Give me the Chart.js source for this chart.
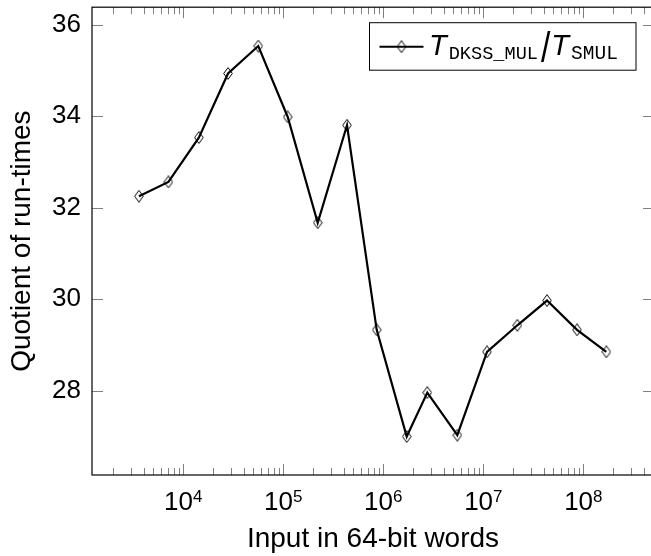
<!DOCTYPE html>
<html><head><meta charset="utf-8">
<script src="https://cdn.jsdelivr.net/npm/chart.js@4"></script>
<style>html,body{margin:0;padding:0;overflow:hidden;background:#fff;width:651px;height:556px}canvas{display:block}</style>
</head><body>
<canvas id="c" width="680" height="556" style="width:680px;height:556px"></canvas>
<script>
// ---- data ----
const inputWords = [3600, 7100, 14300, 28000, 56200, 110700, 220800, 433500, 859000, 1714000, 2754000, 5495000, 10890000, 21880000, 43350000, 86500000, 169800000];
const quotient   = [32.25, 32.56, 33.53, 34.93, 35.53, 33.98, 31.67, 33.80, 29.33, 27.00, 27.96, 27.03, 28.85, 29.43, 29.97, 29.33, 28.85];
const xTickExponents = [4, 5, 6, 7, 8];
const yTickValues = [28, 30, 32, 34, 36];
const xTitle = 'Input in 64-bit words';
const yTitle = 'Quotient of run-times';
const legendMain = 'T';
const legendSub1 = 'DKSS_MUL';
const legendSub2 = 'SMUL';
const xMin = 1222, xMax = 5.09e8, yMin = 26.16, yMax = 36.378;

const SANS = '"Liberation Sans", Arial, sans-serif';
const MONO = '"Liberation Mono", "Courier New", monospace';

function makeDiamond() {
  const c = document.createElement('canvas');
  c.width = 10; c.height = 13;
  const g = c.getContext('2d');
  g.strokeStyle = '#000'; g.lineWidth = 1;
  g.beginPath();
  g.moveTo(5, 0.6); g.lineTo(9.3, 6.5); g.lineTo(5, 12.4); g.lineTo(0.7, 6.5); g.closePath();
  g.stroke();
  return c;
}
const diamond = makeDiamond();

const framePlugin = {
  id: 'frame',
  beforeDatasetsDraw(chart) {
    const {ctx, chartArea: ca} = chart;
    const xs = chart.scales.x, ys = chart.scales.y;
    ctx.save();
    ctx.strokeStyle = '#808080'; ctx.lineWidth = 1;
    ctx.beginPath();
    const e0 = Math.floor(Math.log10(xs.min)), e1 = Math.ceil(Math.log10(xs.max));
    for (let e = e0; e <= e1; e++) {
      for (let m = 1; m <= 9; m++) {
        const v = m * Math.pow(10, e);
        if (v < xs.min || v > xs.max) continue;
        const px = Math.round(xs.getPixelForValue(v)) + 0.5;
        const len = m === 1 ? 11 : 7;
        ctx.moveTo(px, ca.bottom); ctx.lineTo(px, ca.bottom - len);
        ctx.moveTo(px, ca.top); ctx.lineTo(px, ca.top + len);
      }
    }
    yTickValues.forEach(v => {
      const py = Math.round(ys.getPixelForValue(v)) + 0.5;
      ctx.moveTo(ca.left, py); ctx.lineTo(ca.left + 11, py);
      ctx.moveTo(ca.right - 11, py); ctx.lineTo(ca.right, py);
    });
    ctx.stroke();
    ctx.restore();
  },
  afterDraw(chart) {
    const {ctx, chartArea: ca} = chart;
    const xs = chart.scales.x;
    ctx.save();
    // frame
    ctx.strokeStyle = '#000'; ctx.lineWidth = 1.2;
    ctx.strokeRect(ca.left, ca.top, ca.right - ca.left, ca.bottom - ca.top);
    // x tick labels 10^e
    ctx.fillStyle = '#000';
    ctx.textBaseline = 'alphabetic'; ctx.textAlign = 'left';
    xTickExponents.forEach(e => {
      const px = xs.getPixelForValue(Math.pow(10, e));
      ctx.font = '26px ' + SANS;
      const w1 = ctx.measureText('10').width;
      ctx.font = '17px ' + SANS;
      const w2 = ctx.measureText(String(e)).width;
      const x0 = px - (w1 + w2) / 2;
      ctx.font = '26px ' + SANS;
      ctx.fillText('10', x0, 510);
      ctx.font = '17px ' + SANS;
      ctx.fillText(String(e), x0 + w1, 502);
    });
    // legend
    const bx = ca.right - 284.5, by = ca.top + 15.5, bw = 266.5, bh = 47.5;
    ctx.fillStyle = '#fff';
    ctx.fillRect(bx, by, bw, bh);
    ctx.strokeStyle = '#000'; ctx.lineWidth = 1;
    ctx.strokeRect(bx, by, bw, bh);
    const ly = by + 24;
    ctx.lineWidth = 2;
    ctx.beginPath(); ctx.moveTo(bx + 10, ly); ctx.lineTo(bx + 54, ly); ctx.stroke();
    ctx.drawImage(diamond, bx + 32 - 5, ly - 6.5);
    ctx.fillStyle = '#000';
    let x = bx + 59.5;
    const base = by + 32.3;
    ctx.font = 'italic 29px ' + SANS;
    ctx.fillText(legendMain, x, base);
    x += ctx.measureText(legendMain).width + 2;
    ctx.font = '18.6px ' + MONO;
    ctx.fillText(legendSub1, x, base + 3.8);
    x += ctx.measureText(legendSub1).width + 3;
    // tall thin slash
    ctx.font = '32px ' + SANS;
    const sw = ctx.measureText('/').width;
    ctx.save();
    ctx.translate(x, base + 7);
    ctx.scale(1.05, 1.3);
    ctx.fillText('/', 0, 0);
    ctx.restore();
    x += sw * 1.05 + 1;
    ctx.font = 'italic 29px ' + SANS;
    ctx.fillText(legendMain, x, base);
    x += ctx.measureText(legendMain).width + 2;
    ctx.font = '19.5px ' + MONO;
    ctx.fillText(legendSub2, x, base + 3.8);
    ctx.restore();
  }
};

Chart.defaults.font.family = SANS;
Chart.defaults.color = '#000';

new Chart(document.getElementById('c'), {
  type: 'scatter',
  data: {
    datasets: [{
      label: 'T_DKSS_MUL / T_SMUL',
      data: inputWords.map((w, i) => ({x: w, y: quotient[i]})),
      showLine: true,
      borderColor: '#000',
      backgroundColor: '#000',
      borderWidth: 2.2,
      tension: 0,
      pointStyle: diamond,
      pointRadius: 5,
      pointHoverRadius: 5
    }]
  },
  options: {
    responsive: false,
    devicePixelRatio: 1,
    animation: false,
    events: [],
    layout: {padding: {top: 7, right: 26, bottom: 0, left: 0}},
    plugins: {legend: {display: false}, tooltip: {enabled: false}},
    scales: {
      x: {
        type: 'logarithmic', min: xMin, max: xMax,
        afterBuildTicks: s => { s.ticks = xTickExponents.map(e => ({value: Math.pow(10, e), major: true})); },
        afterFit: s => { s.height = 81; s.paddingLeft = 0; s.paddingRight = 0; },
        ticks: {display: false},
        grid: {display: false, drawTicks: false},
        border: {display: false},
        title: {display: true, text: xTitle, color: '#000', font: {size: 28, family: SANS}, padding: {top: 0, bottom: 0}}
      },
      y: {
        type: 'linear', min: yMin, max: yMax,
        afterBuildTicks: s => { s.ticks = yTickValues.map(v => ({value: v})); },
        afterFit: s => { s.width = 92; s.paddingTop = 0; s.paddingBottom = 0; },
        ticks: {color: '#000', font: {size: 26, family: SANS}, padding: 11, callback: v => String(v)},
        grid: {display: false, drawTicks: false},
        border: {display: false},
        title: {display: true, text: yTitle, color: '#000', font: {size: 28, family: SANS}, padding: {top: 5, bottom: 0}}
      }
    }
  },
  plugins: [framePlugin]
});
</script>
</body></html>
